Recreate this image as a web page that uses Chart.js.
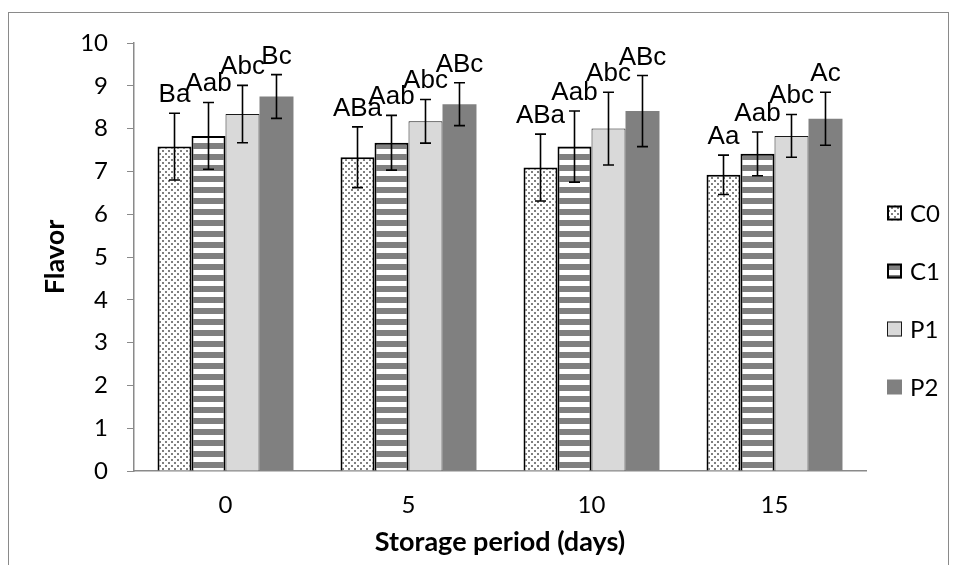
<!DOCTYPE html>
<html>
<head>
<meta charset="utf-8">
<script src="https://cdn.jsdelivr.net/npm/chart.js@4.4.1/dist/chart.umd.min.js"></script>
<style>
  body { margin: 0; background: #fff; }
  #wrap { position: relative; width: 956px; height: 565px; overflow: hidden; }
  #frame { position: absolute; left: 8px; top: 12px; width: 941px; height: 600px;
           border: 1px solid #8a8a8a; box-sizing: border-box; }
  #chart { position: absolute; left: 0; top: 0; }
</style>
</head>
<body>
<div id="wrap">
  <div id="frame"></div>
  <canvas id="chart" width="956" height="565"></canvas>
</div>
<script>
// storage days
const days = ['0', '5', '10', '15'];
const seriesNames = ['C0', 'C1', 'P1', 'P2'];

// mean flavor scores
const c0 = [7.58, 7.33, 7.09, 6.92];
const c1 = [7.83, 7.67, 7.58, 7.41];
const p1 = [8.34, 8.17, 8.00, 7.83];
const p2 = [8.75, 8.57, 8.41, 8.23];

// standard deviations (error bars)
const c0Err = [0.78, 0.71, 0.78, 0.46];
const c1Err = [0.78, 0.64, 0.83, 0.51];
const p1Err = [0.67, 0.51, 0.85, 0.50];
const p2Err = [0.51, 0.50, 0.83, 0.62];

// significance letters
const c0Tags = ['Ba', 'ABa', 'ABa', 'Aa'];
const c1Tags = ['Aab', 'Aab', 'Aab', 'Aab'];
const p1Tags = ['Abc', 'Abc', 'Abc', 'Abc'];
const p2Tags = ['Bc', 'ABc', 'ABc', 'Ac'];

const yTicks = [0, 1, 2, 3, 4, 5, 6, 7, 8, 9, 10];

// fill patterns like the excel chart
function dotPattern() {
    const c = document.createElement('canvas');
    c.width = 6; c.height = 6;
    const g = c.getContext('2d');
    g.fillStyle = '#fff';
    g.fillRect(0, 0, 6, 6);
    g.fillStyle = '#808080';
    g.fillRect(0, 0, 2, 2);
    g.fillRect(3, 3, 2, 2);
    return g.createPattern(c, 'repeat');
}

function stripePattern() {
    const c = document.createElement('canvas');
    c.width = 4; c.height = 11;
    const g = c.getContext('2d');
    g.fillStyle = '#fff';
    g.fillRect(0, 0, 4, 11);
    g.fillStyle = '#808080';
    g.fillRect(0, 0, 4, 6);
    return g.createPattern(c, 'repeat');
}

const errs = [c0Err, c1Err, p1Err, p2Err];
const tags = [c0Tags, c1Tags, p1Tags, p2Tags];

// error bars + letters above them
const errorBars = {
    id: 'errorBars',
    afterDatasetsDraw(chart) {
        const ctx = chart.ctx;
        const y = chart.scales.y;
        ctx.save();
        chart.data.datasets.forEach((ds, i) => {
            const meta = chart.getDatasetMeta(i);
            meta.data.forEach((bar, j) => {
                const v = ds.data[j];
                const e = errs[i][j];
                const top = y.getPixelForValue(v + e);
                const bot = y.getPixelForValue(v - e);
                ctx.strokeStyle = '#000';
                ctx.lineWidth = 1.6;
                ctx.beginPath();
                ctx.moveTo(bar.x, top);
                ctx.lineTo(bar.x, bot);
                ctx.moveTo(bar.x - 5.5, top);
                ctx.lineTo(bar.x + 5.5, top);
                ctx.moveTo(bar.x - 5.5, bot);
                ctx.lineTo(bar.x + 5.5, bot);
                ctx.stroke();

                ctx.fillStyle = '#000';
                ctx.font = '26px "Liberation Sans", Arial, sans-serif';
                ctx.textAlign = 'center';
                ctx.textBaseline = 'alphabetic';
                ctx.fillText(tags[i][j], bar.x, top - 11);
            });
        });
        ctx.restore();
    }
};

// legend on the right, drawn by hand to get excel spacing
const sideLegend = {
    id: 'sideLegend',
    afterDraw(chart) {
        const ctx = chart.ctx;
        const area = chart.chartArea;
        const x = area.right + 21;
        ctx.save();
        chart.data.datasets.forEach((ds, i) => {
            const cy = 300 + (i - 1.5) * 58;
            ctx.fillStyle = ds.backgroundColor;
            ctx.fillRect(x, cy - 7.5, 15, 15);
            if (ds.borderWidth > 0) {
                ctx.strokeStyle = ds.borderColor;
                ctx.lineWidth = ds.borderWidth;
                const h = ds.borderWidth / 2;
                ctx.strokeRect(x + h, cy - 7.5 + h, 15 - ds.borderWidth, 15 - ds.borderWidth);
            }
            ctx.fillStyle = '#000';
            ctx.font = '24px Lato, sans-serif';
            ctx.textAlign = 'left';
            ctx.textBaseline = 'middle';
            ctx.fillText(ds.label, x + 23, cy + 1);
        });
        ctx.restore();
    }
};

const ctx = document.getElementById('chart').getContext('2d');

new Chart(ctx, {
    type: 'bar',
    data: {
        labels: days,
        datasets: [
            { label: seriesNames[0], data: c0, backgroundColor: dotPattern(), borderColor: '#000', borderWidth: 2 },
            { label: seriesNames[1], data: c1, backgroundColor: stripePattern(), borderColor: '#000', borderWidth: 2 },
            { label: seriesNames[2], data: p1, backgroundColor: '#d9d9d9', borderColor: '#1a1a1a', borderWidth: 1 },
            { label: seriesNames[3], data: p2, backgroundColor: '#808080', borderColor: '#808080', borderWidth: 0 }
        ]
    },
    options: {
        responsive: false,
        animation: false,
        devicePixelRatio: 1,
        layout: { padding: { top: 43, right: 90, bottom: 0, left: 0 } },
        datasets: {
            bar: { categoryPercentage: 0.743, barPercentage: 1, borderSkipped: 'bottom' }
        },
        plugins: {
            legend: { display: false },
            tooltip: { enabled: false }
        },
        scales: {
            x: {
                grid: { display: true, drawOnChartArea: false, drawTicks: false },
                border: { display: true, color: '#8a8a8a', width: 1.5 },
                ticks: { color: '#000', font: { family: 'Lato', size: 24 }, padding: 20 },
                title: {
                    display: true,
                    text: 'Storage period (days)',
                    color: '#000',
                    font: { family: 'Lato', size: 27, weight: 'bold' },
                    padding: { top: 0, bottom: 7 }
                },
                afterFit(scale) { scale.height = 94; }
            },
            y: {
                min: 0,
                max: 10,
                afterBuildTicks(scale) { scale.ticks = yTicks.map(v => ({ value: v })); },
                grid: { display: true, drawOnChartArea: false, drawTicks: true, tickLength: 7, color: '#8a8a8a' },
                border: { display: true, color: '#8a8a8a', width: 1.5 },
                ticks: { color: '#000', font: { family: 'Lato', size: 24 }, padding: 19 },
                title: {
                    display: true,
                    text: 'Flavor',
                    color: '#000',
                    font: { family: 'Lato', size: 27, weight: 'bold' },
                    padding: { top: 39, bottom: 0 }
                },
                afterFit(scale) { scale.width = 134; }
            }
        }
    },
    plugins: [errorBars, sideLegend]
});
</script>
</body>
</html>
